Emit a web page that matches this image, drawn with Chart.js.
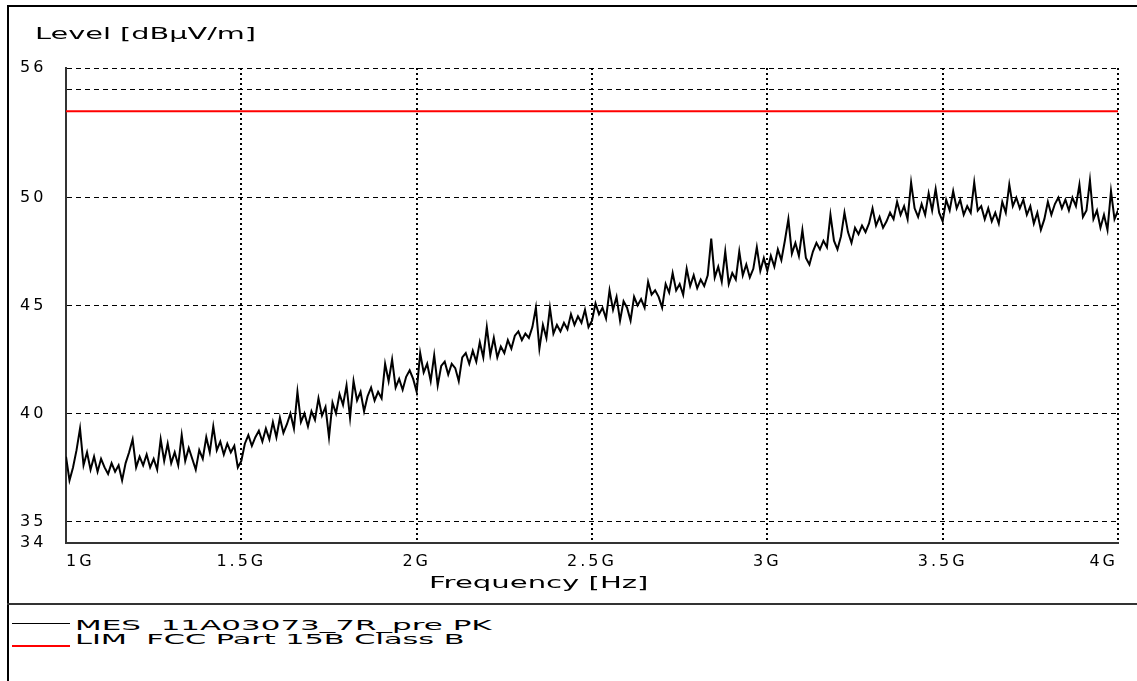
<!DOCTYPE html>
<html>
<head>
<meta charset="utf-8">
<script src="https://cdn.jsdelivr.net/npm/chart.js@4.4.1/dist/chart.umd.min.js"></script>
<style>
  body { margin:0; background:#fff; width:1137px; height:681px; overflow:hidden; position:relative; font-family:"DejaVu Sans", sans-serif; }
  #frame { position:absolute; left:7px; top:5px; width:1150px; height:700px; border-left:2px solid #000; border-top:2px solid #000; box-sizing:border-box; }
  #sep { position:absolute; left:7px; top:603px; width:1130px; border-top:2px solid #333; }
  #plot { position:absolute; left:9px; top:7px; width:1128px; height:596px; }
  .txt { position:absolute; white-space:pre; color:#000; transform-origin:0 0; line-height:1; }
  .swatch { position:absolute; left:12px; width:58px; }
</style>
</head>
<body>
<div id="frame"></div>
<div id="plot"><canvas id="chart"></canvas></div>
<div class="txt" style="left:35px;top:26px;font-size:16px" data-w="221">Level [dBµV/m]</div>
<div class="txt" style="left:429px;top:575px;font-size:16px" data-w="220">Frequency [Hz]</div>
<div id="sep"></div>
<div class="swatch" style="top:623px;border-top:1px solid #000"></div>
<div class="txt" style="left:75px;top:618px;font-size:14px" data-w="416">MES  11A03073_7R_pre PK</div>
<div class="swatch" style="top:645px;border-top:2px solid #ff0000"></div>
<div class="txt" style="left:75px;top:632px;font-size:14px" data-w="390">LIM  FCC Part 15B Class B</div>

<script>
// sweep: 1000 MHz .. 4000 MHz, one reading every 10 MHz
const sweepStartMHz = 1000;
const sweepStepMHz = 10;

const level1000 = [38.0,36.9,37.5,38.3,39.3,37.6,38.2,37.4,38.0,37.3, 37.9,37.5,37.2,37.7,37.3,37.6,36.9,37.7,38.2,38.8,
                   37.5,38.0,37.6,38.1,37.5,37.9,37.4,38.8,37.8,38.6, 37.7,38.2,37.6,39.0,37.8,38.4,37.9,37.4,38.3,37.9,
                   38.9,38.2,39.4,38.3,38.7,38.1,38.6,38.2,38.5,37.5];
const level1500 = [37.8,38.6,39.0,38.5,38.9,39.2,38.7,39.3,38.8,39.6, 38.9,39.8,39.1,39.5,40.0,39.3,41.0,39.6,40.0,39.4,
                   40.1,39.7,40.7,39.9,40.3,38.9,40.5,40.0,40.9,40.4, 41.3,39.8,41.5,40.6,41.0,40.1,40.8,41.2,40.6,41.0,
                   40.7,42.3,41.5,42.5,41.2,41.6,41.1,41.7,42.0,41.6];
const level2000 = [41.0,42.8,41.9,42.3,41.5,42.7,41.3,42.2,42.4,41.8, 42.3,42.1,41.5,42.6,42.8,42.3,42.9,42.4,43.3,42.6,
                   44.0,42.7,43.5,42.6,43.1,42.8,43.4,43.0,43.6,43.8, 43.4,43.7,43.5,44.0,44.9,43.0,44.1,43.5,44.9,43.7,
                   44.1,43.8,44.2,43.9,44.6,44.1,44.5,44.2,44.8,44.0];
const level2500 = [44.3,45.1,44.6,44.9,44.4,45.7,44.8,45.4,44.3,45.2, 44.9,44.3,45.4,45.0,45.3,44.9,46.1,45.5,45.7,45.4,
                   44.9,46.0,45.6,46.5,45.7,46.0,45.5,46.7,45.9,46.4, 45.8,46.2,45.9,46.4,48.1,46.3,46.8,46.1,47.5,46.0,
                   46.5,46.2,47.5,46.4,46.9,46.3,46.7,47.7,46.6,47.2];
const level3000 = [46.6,47.3,46.8,47.6,47.1,48.0,49.0,47.4,47.9,47.3, 48.5,47.2,46.9,47.5,47.9,47.6,48.0,47.7,49.2,48.0,
                   47.6,48.2,49.3,48.4,47.9,48.6,48.3,48.7,48.4,48.8, 49.5,48.7,49.1,48.6,48.9,49.3,49.0,49.8,49.2,49.6,
                   49.0,50.7,49.5,49.1,49.7,49.2,50.2,49.4,50.4,49.3];
const level3500 = [48.9,49.9,49.4,50.3,49.5,49.9,49.2,49.6,49.3,50.7, 49.4,49.6,49.0,49.5,48.9,49.3,48.8,49.8,49.3,50.6,
                   49.6,50.0,49.5,49.9,49.2,49.6,48.8,49.3,48.5,49.0, 49.8,49.2,49.7,50.0,49.5,49.9,49.4,50.0,49.6,50.6,
                   49.1,49.4,50.8,49.0,49.4,48.6,49.2,48.5,50.3,49.0, 49.4];

// FCC Part 15B Class B limit
const limitFreqMHz = [1000, 4000];
const limitLevel = [54, 54];

// axes
const xTickValues = [1000, 1500, 2000, 2500, 3000, 3500, 4000];
const xTickLabels = ["1G", "1.5G", "2G", "2.5G", "3G", "3.5G", "4G"];
const yTickValues = [34, 35, 40, 45, 50, 55, 56];
const yTickLabels = ["34", "35", "40", "45", "50", "", "56"];

const levels = [].concat(level1000, level1500, level2000, level2500, level3000, level3500);
const tracePoints = levels.map((v, i) => ({ x: sweepStartMHz + i * sweepStepMHz, y: v }));
const limitPoints = limitFreqMHz.map((f, i) => ({ x: f, y: limitLevel[i] }));

const spacing = {
  id: "spacing",
  beforeUpdate(chart) { chart.ctx.letterSpacing = "3px"; },
  beforeDraw(chart) { chart.ctx.letterSpacing = "3px"; }
};

const tickFont = { family: "DejaVu Sans", size: 16 };

new Chart(document.getElementById("chart"), {
  type: "line",
  data: {
    datasets: [
      { label: "MES  11A03073_7R_pre PK", data: tracePoints, borderColor: "#000", borderWidth: 2, pointRadius: 0, tension: 0 },
      { label: "LIM  FCC Part 15B Class B", data: limitPoints, borderColor: "#ff0000", borderWidth: 2, pointRadius: 0 }
    ]
  },
  options: {
    responsive: true,
    maintainAspectRatio: false,
    animation: false,
    layout: { padding: { left: 11, top: 61, right: 19, bottom: 0 } },
    plugins: { legend: { display: false }, tooltip: { enabled: false }, title: { display: false } },
    scales: {
      x: {
        type: "linear",
        min: 1000,
        max: 4000,
        afterBuildTicks: s => { s.ticks = xTickValues.map(v => ({ value: v })); },
        afterFit: s => { s.height = 60; },
        ticks: {
          align: "inner",
          padding: 9,
          color: "#000",
          font: tickFont,
          maxRotation: 0,
          autoSkip: false,
          callback: (v) => xTickLabels[xTickValues.indexOf(v)]
        },
        grid: {
          drawTicks: false,
          lineWidth: 2,
          color: c => (c.index === 0 ? "rgba(0,0,0,0)" : "#000")
        },
        border: { display: true, color: "#333", width: 2, dash: [2, 3] }
      },
      y: {
        min: 34,
        max: 56,
        afterBuildTicks: s => { s.ticks = yTickValues.map(v => ({ value: v })); },
        afterFit: s => { s.width = 46; },
        ticks: {
          crossAlign: "far",
          color: "#000",
          font: tickFont,
          autoSkip: false,
          callback: (v) => yTickLabels[yTickValues.indexOf(v)]
        },
        grid: {
          drawTicks: false,
          lineWidth: 1,
          color: c => (c.index === 0 ? "rgba(0,0,0,0)" : "#000")
        },
        border: { display: true, color: "#333", width: 2, dash: [5, 4] }
      }
    }
  },
  plugins: [spacing]
});

document.querySelectorAll(".txt").forEach(el => {
  const w = parseFloat(el.dataset.w);
  el.style.transform = "scaleX(" + (w / el.offsetWidth) + ")";
});
</script>
</body>
</html>
